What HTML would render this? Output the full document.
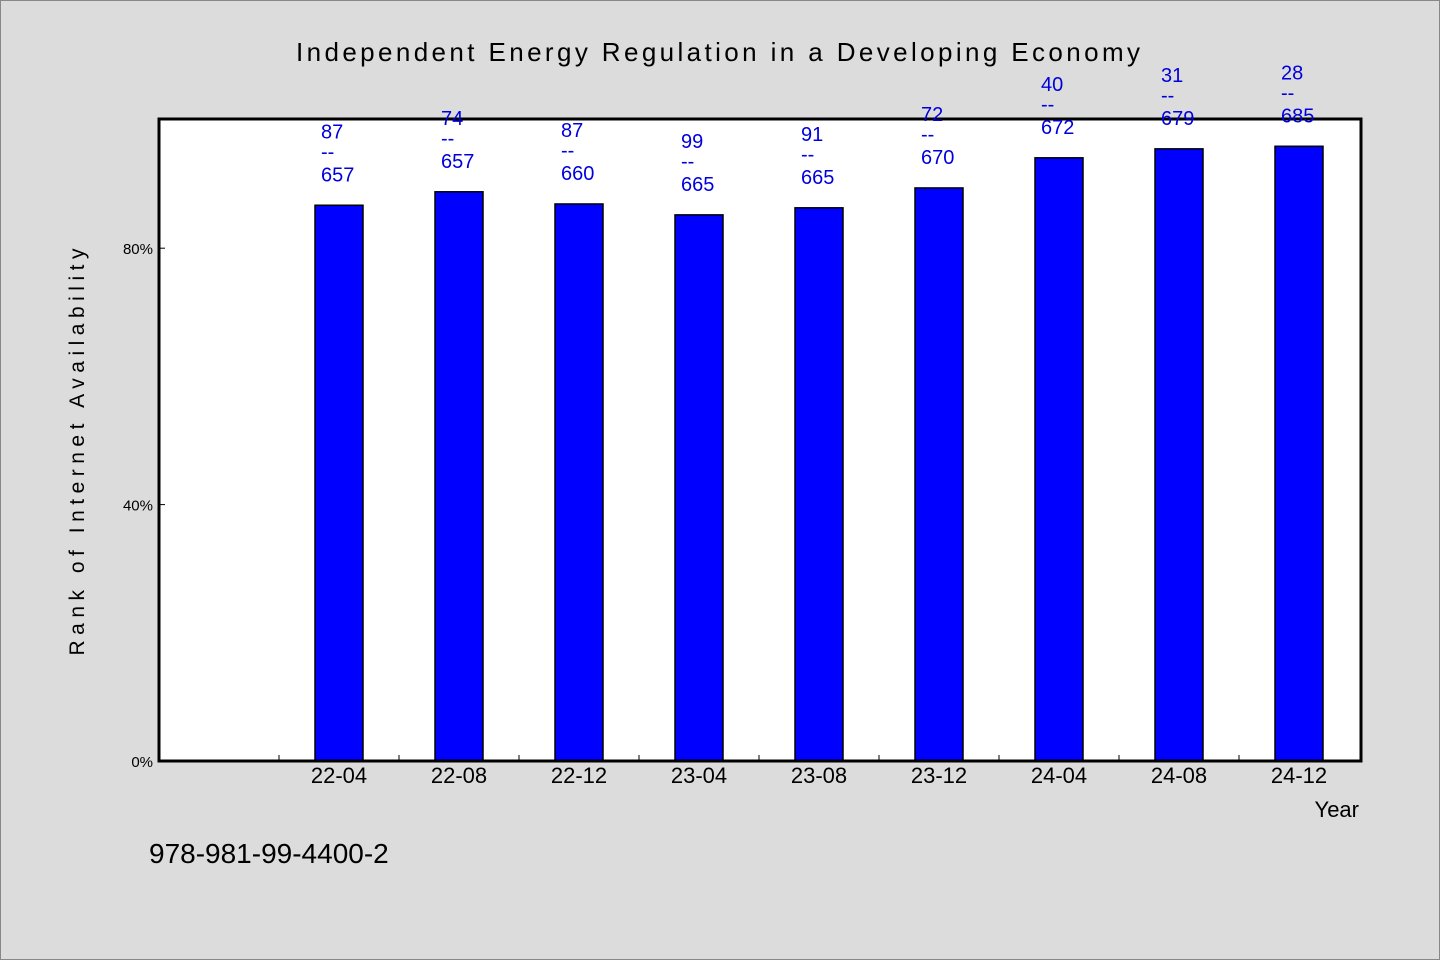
<!DOCTYPE html>
<html><head><meta charset="utf-8"><style>
body{margin:0;background:#dcdcdc;}
svg{display:block;font-family:"WenQuanYi Zen Hei","Liberation Sans",sans-serif;}
</style></head><body>
<svg id="chart" width="1440" height="960">
<rect x="0.5" y="0.5" width="1439" height="959" fill="#dcdcdc" stroke="#888"/>
<text x="296" y="61" font-size="26" textLength="844">Independent Energy Regulation in a Developing Economy</text>
<rect x="159" y="119" width="1202" height="642" fill="#fff"/>
<g id="bars"></g>
<rect x="159" y="119" width="1202" height="642" fill="none" stroke="#000" stroke-width="3"/>
<g id="axes"></g>
<g id="labels"></g>
<text transform="translate(84,452) rotate(-90)" text-anchor="middle" font-size="21" textLength="407">Rank of Internet Availability</text>
<text x="1359" y="817" text-anchor="end" font-size="22">Year</text>
<text x="149" y="863" font-size="28">978-981-99-4400-2</text>
</svg>
<script>
const categories=["22-04","22-08","22-12","23-04","23-08","23-12","24-04","24-08","24-12"];
const values=[86.7,88.8,86.9,85.2,86.3,89.4,94.1,95.5,95.9];
const topLabels=["87","74","87","99","91","72","40","31","28"];
const bottomLabels=["657","657","660","665","665","670","672","679","685"];
const yTicks=[0,40,80];
const NS="http://www.w3.org/2000/svg";
const L=159,R=1361,T=120,B=761,step=120,bw=48;
const y=v=>B-(B-T)*v/100;
const xc=i=>L+120+step*i+60;
function mk(tag,a,parent,txt){const e=document.createElementNS(NS,tag);for(const k in a)e.setAttribute(k,a[k]);if(txt!=null)e.textContent=txt;document.getElementById(parent).appendChild(e);return e;}
values.forEach((v,i)=>{
 const r=mk("rect",{x:xc(i)-bw/2,y:y(v),width:bw,height:B-y(v),fill:"#0000ff",stroke:"#000","stroke-width":1.5},"bars");
 
 
 const ty=y(v);
 const a=mk("text",{x:xc(i)-18,y:ty-67,"font-size":20,fill:"#0000dd"},"labels",topLabels[i]);
 
 
 const b=mk("text",{x:xc(i)-18,y:ty-47,"font-size":20,fill:"#0000dd"},"labels","--");
 
 
 const c=mk("text",{x:xc(i)-18,y:ty-24,"font-size":20,fill:"#0000dd"},"labels",bottomLabels[i]);
 
 
 const t=mk("text",{x:xc(i),y:783,"font-size":22,"text-anchor":"middle"},"axes",categories[i]);
 
 
 const tk=mk("line",{x1:xc(i)-60,x2:xc(i)-60,y1:B,y2:B-6,stroke:"#000","stroke-width":1},"axes");
 
 
});
yTicks.forEach(v=>{
 const t=mk("text",{x:153,y:y(v)+6,"font-size":15,"text-anchor":"end"},"axes",v+"%");
 
 
 const l=mk("line",{x1:L,x2:L+6,y1:y(v),y2:y(v),stroke:"#000"},"axes");
 
 
});
</script>
</body></html>
